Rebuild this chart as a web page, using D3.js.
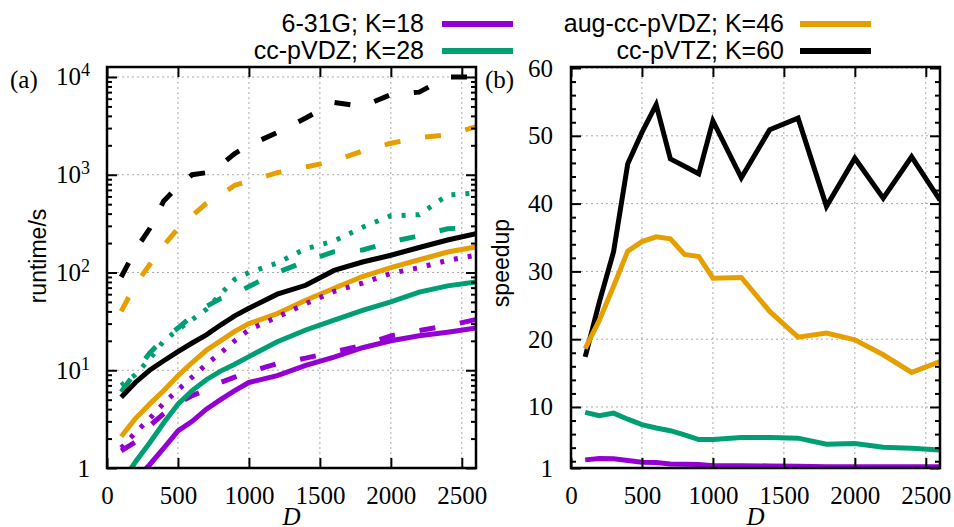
<!DOCTYPE html>
<html>
<head>
<meta charset="utf-8">
<script src="https://cdn.jsdelivr.net/npm/d3@7"></script>
<style>
  body { margin: 0; background: #fff; }
</style>
</head>
<body>
<div id="chart"></div>
<script>
// problem size D, shared by every curve
const dims = [100, 200, 300, 400, 500, 600, 700, 800, 900, 1000, 1200, 1400, 1600, 1800, 2000, 2200, 2400, 2600];

// (a) runtimes in seconds
const tzRef    = [90, 170, 280, 540, 760, 1000, 1050, 1250, 1650, 2000, 2700, 3800, 5500, 5000, 6600, 7000, 10000, 10000];
const augRef   = [40, 75, 120, 190, 280, 380, 510, 620, 780, 860, 1050, 1200, 1380, 1750, 2100, 2400, 2550, 3100];
const dzDotted = [7, 9, 13, 20, 26, 33, 42, 60, 85, 100, 125, 175, 210, 290, 380, 390, 620, 650];
const dzDashed = [6, 9.5, 15, 21, 27, 36, 45, 54, 60, 72, 100, 130, 163, 170, 205, 238, 280, 290];
const tzSolid  = [5.3, 7.5, 10, 12.5, 15.5, 19, 23, 29, 36, 43, 60, 74, 105, 128, 150, 180, 215, 250];
const augSolid = [2.1, 3.2, 4.5, 6.2, 8.8, 12, 16, 20, 25, 30, 38, 52, 69, 91, 112, 135, 162, 182];
const pDotted  = [1.6, 2.3, 3.2, 4.6, 6.3, 8.5, 11.5, 15, 20, 26, 35, 48, 64, 78, 98, 112, 133, 150];
const pDashed  = [1.5, 1.85, 2.7, 3.6, 4.6, 5.5, 6.3, 7.5, 8.5, 9.6, 11.7, 13.3, 15.4, 18, 22.5, 25.5, 28.5, 33];
const dzSolid  = [0.7, 1.15, 1.8, 2.9, 4.5, 6.2, 8, 9.8, 11.5, 13.8, 19.6, 25.8, 32.5, 41, 50, 63, 73, 80];
const pSolid   = [0.55, 0.75, 1.08, 1.6, 2.4, 3.0, 4.0, 5.0, 6.2, 7.5, 8.8, 11.2, 13.6, 17, 20, 22.5, 24.5, 27];

// (b) speedups
const spTZ  = [17.4, 25.5, 32.9, 45.9, 50.5, 54.6, 46.6, 45.5, 44.4, 52.2, 43.8, 50.9, 52.6, 39.6, 46.7, 40.8, 46.9, 40.5];
const spAug = [18.6, 22.8, 27.8, 33, 34.4, 35.1, 34.8, 32.5, 32.2, 29, 29.1, 24.1, 20.3, 20.9, 19.9, 17.7, 15.1, 16.7];
const spDZ  = [9.2, 8.7, 9.1, 8.2, 7.4, 6.9, 6.5, 5.9, 5.2, 5.2, 5.5, 5.5, 5.4, 4.5, 4.6, 4.05, 3.9, 3.65];
const sp631 = [2.2, 2.4, 2.35, 2.1, 1.85, 1.8, 1.6, 1.55, 1.5, 1.35, 1.35, 1.3, 1.25, 1.2, 1.2, 1.2, 1.2, 1.2];

const xTicks = [0, 500, 1000, 1500, 2000, 2500];
const logTicks = [1, 10, 100, 1000, 10000];
const linTicks = [1, 10, 20, 30, 40, 50, 60];
const legendNames = ['6-31G; K=18', 'cc-pVDZ; K=28', 'aug-cc-pVDZ; K=46', 'cc-pVTZ; K=60'];

const purple = '#9400d3', green = '#009e73', orange = '#e69f00', black = '#000000';
const dashed = '16,25', dotted = '4,10';

const w = 954, h = 527,
      plotTop = 67, plotBottom = 468;

const svg = d3.select('#chart')
              .append('svg')
              .attr('width', w)
              .attr('height', h)
              .style('font-family', "'Liberation Serif', serif");

svg.append('rect').attr('width', w).attr('height', h).attr('fill', '#fff');

function panel(id, left, right, y, yMajor, yMinor, labelPad) {
  const x = d3.scaleLinear().domain([0, 2600]).range([left, right]);
  const g = svg.append('g').attr('id', id);

  // dotted grid at the major ticks
  g.selectAll('.vgrid')
   .data(xTicks.slice(1))
   .enter()
   .append('line')
   .attr('x1', d => x(d)).attr('x2', d => x(d))
   .attr('y1', plotTop).attr('y2', plotBottom)
   .attr('stroke', '#aaa').attr('stroke-width', 1).attr('stroke-dasharray', '2,3');

  g.selectAll('.hgrid')
   .data(yMajor.slice(1))
   .enter()
   .append('line')
   .attr('x1', left).attr('x2', right)
   .attr('y1', d => y(d)).attr('y2', d => y(d))
   .attr('stroke', '#aaa').attr('stroke-width', 1).attr('stroke-dasharray', '2,3');

  svg.append('clipPath')
     .attr('id', id + '-clip')
     .append('rect')
     .attr('x', left).attr('y', plotTop)
     .attr('width', right - left).attr('height', plotBottom - plotTop);

  const lines = g.append('g').attr('clip-path', `url(#${id}-clip)`);
  const axes = svg.append('g');

  const ax = (axis, tx, ty) => {
    const a = axes.append('g').attr('transform', `translate(${tx},${ty})`).call(axis);
    a.select('.domain').remove();
    a.selectAll('line').attr('stroke-width', 2);
    a.selectAll('text').attr('font-size', 25).attr('font-family', "'Liberation Serif', serif").attr('fill', '#000');
    return a;
  };

  ax(d3.axisBottom(x).tickValues(xTicks).tickFormat(d3.format('d')).tickSize(-10).tickPadding(18), 0, plotBottom);
  ax(d3.axisTop(x).tickValues(xTicks).tickSize(-10).tickFormat(''), 0, plotTop);
  const yl = ax(d3.axisLeft(y).tickValues(yMajor).tickFormat(d3.format('d')).tickSize(-10).tickPadding(labelPad), left, 0);
  ax(d3.axisLeft(y).tickValues(yMinor).tickSize(-5).tickFormat(''), left, 0);
  ax(d3.axisRight(y).tickValues(yMajor).tickSize(-10).tickFormat(''), right, 0);
  ax(d3.axisRight(y).tickValues(yMinor).tickSize(-5).tickFormat(''), right, 0);

  axes.append('rect')
      .attr('x', left).attr('y', plotTop)
      .attr('width', right - left).attr('height', plotBottom - plotTop)
      .attr('fill', 'none').attr('stroke', '#000').attr('stroke-width', 2.5);

  // axis title sits at the very bottom edge, as in the original
  svg.append('text')
     .attr('x', (left + right) / 2).attr('y', 525)
     .attr('text-anchor', 'middle')
     .attr('font-size', 25).attr('font-style', 'italic')
     .text('D');

  return { x, y, lines, yl };
}

function curve(p, values, color, dash) {
  const line = d3.line()
                 .x((d, i) => p.x(dims[i]))
                 .y(d => p.y(d));
  p.lines.append('path')
   .attr('d', line(values))
   .attr('fill', 'none')
   .attr('stroke', color)
   .attr('stroke-width', 5)
   .attr('stroke-dasharray', dash || null);
}

// ---- (a) runtime, log scale
const yLog = d3.scaleLog().domain([1, 12650]).range([plotBottom, plotTop]);
const logMinor = [];
logTicks.slice(0, 4).forEach(t => { for (let m = 2; m <= 9; m++) logMinor.push(t * m); });

const pa = panel('pa', 107, 476, yLog, logTicks, logMinor.filter(v => v < 12650), 17);
pa.yl.selectAll('text').each(function(d) {
  if (d === 1) return;
  const t = d3.select(this).text(null);
  t.append('tspan').text('10');
  t.append('tspan').attr('dy', '-0.5em').attr('font-size', 18).text(Math.round(Math.log10(d)));
});

curve(pa, tzRef, black, dashed);
curve(pa, augRef, orange, dashed);
curve(pa, dzDotted, green, dotted);
curve(pa, dzDashed, green, dashed);
curve(pa, tzSolid, black);
curve(pa, augSolid, orange);
curve(pa, pDotted, purple, dotted);
curve(pa, pDashed, purple, dashed);
curve(pa, dzSolid, green);
curve(pa, pSolid, purple);

// ---- (b) speedup, linear scale
const yLin = d3.scaleLinear().domain([1, 60.15]).range([plotBottom, plotTop]);
const linMinor = d3.range(2, 60, 2).filter(v => v % 10 !== 0);

const pb = panel('pb', 571, 940, yLin, linTicks, linMinor, 18);
curve(pb, spTZ, black);
curve(pb, spAug, orange);
curve(pb, spDZ, green);
curve(pb, sp631, purple);

// panel tags and axis titles
svg.append('text').attr('x', 10).attr('y', 88).attr('font-size', 25).text('(a)');
svg.append('text').attr('x', 485).attr('y', 88).attr('font-size', 25).text('(b)');

const sans = "'Liberation Sans', Arial, sans-serif";
svg.append('text')
   .attr('transform', 'translate(45.5,256) rotate(-90)')
   .attr('text-anchor', 'middle')
   .attr('font-family', sans).attr('font-size', 23)
   .text('runtime/s');
svg.append('text')
   .attr('transform', 'translate(509,263) rotate(-90)')
   .attr('text-anchor', 'middle')
   .attr('font-family', sans).attr('font-size', 23)
   .text('speedup');

// legend, two columns
const legendColors = [purple, green, orange, black];
const legend = svg.append('g').attr('font-family', sans).attr('font-size', 25);
legendNames.forEach((name, i) => {
  const col = Math.floor(i / 2), row = i % 2;
  const tx = col ? 784 : 424, lx = col ? 800 : 442;
  const ly = 24 + row * 27;
  legend.append('text')
        .attr('x', tx).attr('y', ly + 8)
        .attr('text-anchor', 'end')
        .text(name);
  legend.append('line')
        .attr('x1', lx).attr('x2', lx + 71)
        .attr('y1', ly).attr('y2', ly)
        .attr('stroke', legendColors[i])
        .attr('stroke-width', 6);
});
</script>
</body>
</html>
